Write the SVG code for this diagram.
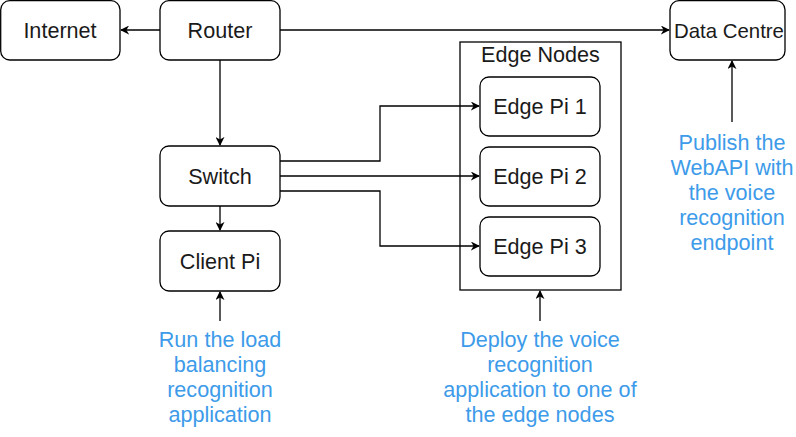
<svg xmlns="http://www.w3.org/2000/svg" width="796" height="437" viewBox="0 0 796 437">
<style>
.node rect{fill:#fff;stroke:#000;stroke-width:1.3}
.node text{font-family:"Liberation Sans",Arial,sans-serif;font-size:21.6px;fill:#1a1a1a;text-anchor:middle}
.note text{font-family:"Liberation Sans",Arial,sans-serif;font-size:21.6px;fill:#3d9be9;text-anchor:middle}
.edges path{fill:none;stroke:#000;stroke-width:1.3;marker-end:url(#arr)}
</style>
<defs>
<marker id="arr" viewBox="0 0 10 10" refX="9" refY="5" markerWidth="9" markerHeight="9" markerUnits="userSpaceOnUse" orient="auto">
<path d="M0,0 L10,5 L0,10 L3,5 Z" fill="#000"/>
</marker>
</defs>
<rect width="796" height="437" fill="#fff"/>
<g id="edge-nodes" class="node"><rect x="460" y="42" width="161" height="248"/><text x="540.5" y="62">Edge Nodes</text></g>
<g class="edges">
<path d="M160,30 H121"/>
<path d="M280,30 H669"/>
<path d="M220,60 V145"/>
<path d="M220,206 V230"/>
<path d="M280,161 H380 V106 H479"/>
<path d="M280,176 H479"/>
<path d="M280,191 H380 V246 H479"/>
<path d="M220,321 V292"/>
<path d="M540,321 V291"/>
<path d="M732,122 V61"/>
</g>
<g id="internet" class="node"><rect x="0.7" y="0.7" width="119.3" height="59.3" rx="9"/><text x="60" y="38">Internet</text></g>
<g id="router" class="node"><rect x="160" y="0.7" width="120" height="59.3" rx="9"/><text x="220" y="38">Router</text></g>
<g id="switch" class="node"><rect x="160" y="146" width="120" height="60" rx="9"/><text x="220" y="184">Switch</text></g>
<g id="client-pi" class="node"><rect x="160" y="231" width="120" height="60" rx="9"/><text x="220" y="269">Client Pi</text></g>
<g id="data-centre" class="node"><rect x="670" y="0.7" width="115" height="59.3" rx="9"/><text x="729" y="38" style="font-size:20.4px">Data Centre</text></g>
<g id="edge-pi-1" class="node"><rect x="480" y="77" width="120" height="59" rx="9"/><text x="540" y="114">Edge Pi 1</text></g>
<g id="edge-pi-2" class="node"><rect x="480" y="147" width="120" height="59" rx="9"/><text x="540" y="184">Edge Pi 2</text></g>
<g id="edge-pi-3" class="node"><rect x="480" y="217" width="120" height="59" rx="9"/><text x="540" y="254">Edge Pi 3</text></g>
<g id="note-client" class="note"><text x="220" y="347">Run the load</text><text x="220" y="372">balancing</text><text x="220" y="397">recognition</text><text x="220" y="422">application</text></g>
<g id="note-edge" class="note"><text x="540" y="347">Deploy the voice</text><text x="540" y="372">recognition</text><text x="540" y="397">application to one of</text><text x="540" y="422">the edge nodes</text></g>
<g id="note-dc" class="note"><text x="732" y="150">Publish the</text><text x="732" y="175">WebAPI with</text><text x="732" y="200">the voice</text><text x="732" y="225">recognition</text><text x="732" y="250">endpoint</text></g>
</svg>
